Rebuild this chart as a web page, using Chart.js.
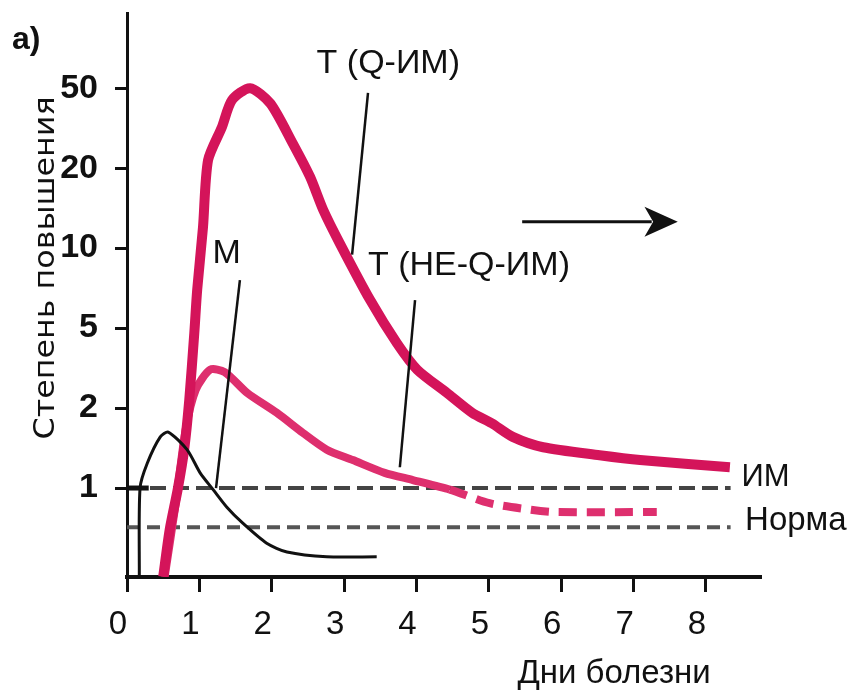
<!DOCTYPE html>
<html>
<head>
<meta charset="utf-8">
<script src="https://cdn.jsdelivr.net/npm/chart.js@4"></script>
<style>
  html, body { margin: 0; background: #fff; }
  #wrap { width: 852px; height: 696px; }
</style>
</head>
<body>
<div id="wrap"><canvas id="myChart"></canvas></div>
<script>
// ось X — дни болезни, ось Y — ступени шкалы (1, 2, 5, 10, 20, 50)
const xTicks = [0, 1, 2, 3, 4, 5, 6, 7, 8];
const yTickPos = [1, 2, 3, 4, 5, 6];
const yTickLabels = ['1', '2', '5', '10', '20', '50'];

// Тропонин T при Q-ИМ
const tqDays  = [0.50, 0.59, 0.70, 0.79, 0.86, 0.93, 0.97, 1.05, 1.12, 1.31, 1.45, 1.70, 1.98, 2.29, 2.53, 2.71, 2.94, 3.36, 3.73, 4.01, 4.42, 4.77, 5.04, 5.33, 5.75, 6.53, 7.09, 8.33];
const tqLevel = [-0.11, 0.48, 0.98, 1.48, 2.10, 2.94, 3.48, 4.26, 5.10, 5.51, 5.85, 6.00, 5.81, 5.31, 4.89, 4.48, 4.06, 3.35, 2.81, 2.48, 2.19, 1.94, 1.81, 1.64, 1.51, 1.41, 1.35, 1.26];

// Тропонин T при не-Q-ИМ
const tnqDays  = [0.52, 0.68, 0.81, 0.95, 1.15, 1.35, 1.66, 2.07, 2.43, 2.76, 3.12, 3.56, 3.95, 4.46, 5.01, 5.57, 5.91, 7.32];
const tnqLevel = [-0.11, 0.85, 1.73, 2.23, 2.48, 2.45, 2.19, 1.94, 1.69, 1.48, 1.35, 1.19, 1.10, 0.98, 0.81, 0.73, 0.70, 0.70];

// Миоглобин
const mDays  = [0.17, 0.18, 0.28, 0.46, 0.57, 0.83, 1.01, 1.19, 1.38, 1.60, 1.93, 2.21, 2.76, 3.45];
const mLevel = [-0.11, 1.00, 1.31, 1.64, 1.70, 1.48, 1.19, 0.98, 0.76, 0.56, 0.31, 0.20, 0.14, 0.14];

// уровни ИМ и нормы
const imDays = [0, 8.34];
const imLevel = [1, 1];
const imStubDays = [0, 0.3];
const imStubLevel = [1, 1];
const normDays = [0, 8.34];
const normLevel = [0.51, 0.51];

const pts = (xs, ys) => xs.map((v, i) => ({ x: v, y: ys[i] }));

const notes = {
  id: 'notes',
  afterDatasetsDraw(chart) {
    const { ctx, scales: { x, y } } = chart;
    const X = v => x.getPixelForValue(v);
    const Y = v => y.getPixelForValue(v);
    ctx.save();

    // выноски
    ctx.strokeStyle = '#111';
    ctx.lineWidth = 2.5;
    [[3.33, 5.94, 3.11, 3.92], [1.56, 3.60, 1.23, 1.00], [3.98, 3.35, 3.77, 1.26]].forEach(p => {
      ctx.beginPath();
      ctx.moveTo(X(p[0]), Y(p[1]));
      ctx.lineTo(X(p[2]), Y(p[3]));
      ctx.stroke();
    });

    // стрелка
    const ay = Y(4.33);
    ctx.lineWidth = 3;
    ctx.beginPath();
    ctx.moveTo(X(5.46), ay);
    ctx.lineTo(X(7.25), ay);
    ctx.stroke();
    ctx.fillStyle = '#111';
    ctx.beginPath();
    ctx.moveTo(X(7.15), ay - 15);
    ctx.lineTo(X(7.61), ay);
    ctx.lineTo(X(7.15), ay + 15);
    ctx.lineTo(X(7.27), ay);
    ctx.closePath();
    ctx.fill();

    // подписи кривых
    ctx.textBaseline = 'middle';
    ctx.textAlign = 'left';
    ctx.font = '34px "Liberation Sans", Arial, sans-serif';
    ctx.fillText('T (Q-ИМ)', X(2.62), Y(6.31));
    ctx.fillText('T (НЕ-Q-ИМ)', X(3.33), Y(3.78));
    ctx.fillText('M', X(1.18), Y(3.93));
    ctx.font = '31px "Liberation Sans", Arial, sans-serif';
    ctx.fillText('ИМ', X(8.49), Y(1.13));
    ctx.font = '33px "Liberation Sans", Arial, sans-serif';
    ctx.fillText('Норма', X(8.54), Y(0.59));

    ctx.textAlign = 'center';
    ctx.fillText('Дни болезни', X(6.73), 674);

    ctx.font = 'bold 32px "Liberation Sans", Arial, sans-serif';
    ctx.textAlign = 'left';
    ctx.fillText('а)', 12, 40);

    // подпись оси Y
    const t = 'Степень повышения';
    ctx.translate(46, 268);
    ctx.rotate(-Math.PI / 2);
    ctx.font = '29px "DejaVu Sans", sans-serif';
    const w = ctx.measureText(t).width;
    ctx.scale(343 / w, 1);
    ctx.textAlign = 'center';
    ctx.fillText(t, 0, 0);

    ctx.restore();
  }
};

const ctx = document.getElementById('myChart');
new Chart(ctx, {
  type: 'line',
  data: {
    datasets: [
      {
        label: 'M',
        data: pts(mDays, mLevel),
        borderColor: '#111',
        borderWidth: 3,
        tension: 0.25
      },
      {
        label: 'T (Q-ИМ)',
        data: pts(tqDays, tqLevel),
        borderColor: '#d4145a',
        borderWidth: 10,
        tension: 0.25
      },
      {
        label: 'T (НЕ-Q-ИМ)',
        data: pts(tnqDays, tnqLevel),
        borderColor: '#de2f6e',
        borderWidth: 8,
        tension: 0.25,
        segment: {
          borderDash: c => c.p0.parsed.x >= 4.4 ? [18, 10] : undefined
        }
      },
      {
        label: 'ИМ (начало)',
        data: pts(imStubDays, imStubLevel),
        borderColor: '#111',
        borderWidth: 5
      },
      {
        label: 'ИМ',
        data: pts(imDays, imLevel),
        borderColor: '#444',
        borderWidth: 4,
        borderDash: [16, 7]
      },
      {
        label: 'Норма',
        data: pts(normDays, normLevel),
        borderColor: '#555',
        borderWidth: 4,
        borderDash: [13, 7]
      }
    ]
  },
  options: {
    responsive: true,
    maintainAspectRatio: false,
    animation: false,
    elements: { point: { radius: 0 } },
    layout: { padding: { top: 13, right: 91, left: 0, bottom: 0 } },
    plugins: {
      legend: { display: false },
      tooltip: { enabled: false }
    },
    scales: {
      x: {
        type: 'linear',
        min: 0,
        max: 8.76,
        afterBuildTicks: s => { s.ticks = xTicks.map(v => ({ value: v })); },
        afterFit: s => { s.height = 119; s.paddingLeft = 0; s.paddingRight = 0; },
        border: { color: '#111', width: 4 },
        grid: { drawOnChartArea: false, tickLength: 15, tickWidth: 3, tickColor: '#111' },
        ticks: {
          color: '#111',
          padding: 13,
          labelOffset: -9,
          maxRotation: 0,
          font: { family: '"Liberation Sans", Arial, sans-serif', size: 33 }
        }
      },
      y: {
        type: 'linear',
        min: -0.1125,
        max: 6.94,
        afterBuildTicks: s => { s.ticks = yTickPos.map(v => ({ value: v })); },
        afterFit: s => { s.width = 127; s.paddingTop = 0; s.paddingBottom = 0; },
        border: { color: '#111', width: 3 },
        grid: { drawOnChartArea: false, tickLength: 12, tickWidth: 3, tickColor: '#111' },
        ticks: {
          color: '#111',
          padding: 17,
          callback: v => yTickLabels[yTickPos.indexOf(v)],
          font: { family: '"Liberation Sans", Arial, sans-serif', size: 34, weight: 'bold' }
        }
      }
    }
  },
  plugins: [notes]
});
</script>
</body>
</html>
